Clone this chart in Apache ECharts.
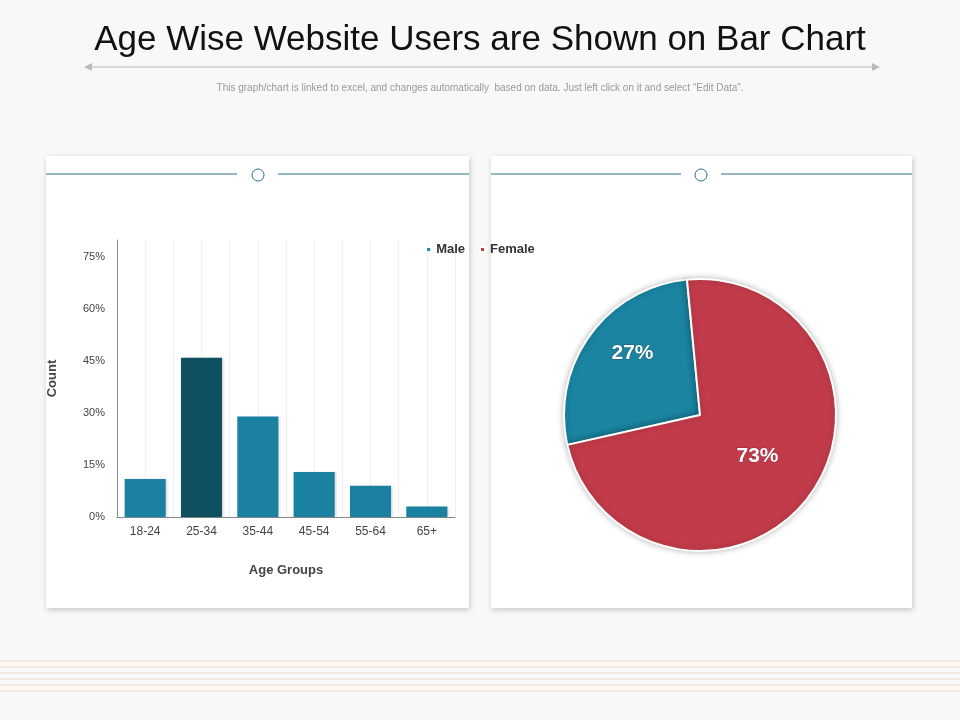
<!DOCTYPE html>
<html><head><meta charset="utf-8">
<script src="https://cdn.jsdelivr.net/npm/echarts@6/dist/echarts.min.js"></script>
<style>html,body{margin:0;padding:0;background:#f8f8f8}#c{width:960px;height:720px}</style>
</head><body><div id="c"></div>
<script>
const categories = ['18-24','25-34','35-44','45-54','55-64','65+'];
const barValues = [11, 46, 29, 13, 9, 3];
const yTicks = [0, 15, 30, 45, 60, 75];
const pieNames = ['Male','Female'];
const pieValues = [27, 73];

const chart = echarts.init(document.getElementById('c'));
const stripes = [];
for (let i = 0; i < 6; i++) stripes.push({type:'line', shape:{x1:0,y1:661+i*6,x2:960,y2:661+i*6}, style:{stroke:'#f0d9c8',lineWidth:1}, z:0});
chart.setOption({
  backgroundColor:'#f8f8f8',
  title:[{text:'Age Wise Website Users are Shown on Bar Chart', left:'center', top:18,
    textStyle:{fontFamily:'Liberation Sans, Arial', fontSize:35, fontWeight:'normal', color:'#111'}},
    {text:'This graph/chart is linked to excel, and changes automatically  based on data. Just left click on it and select \u201cEdit Data\u201d.', left:'center', top:78,
    textStyle:{fontFamily:'Liberation Sans Narrow, Liberation Sans', fontSize:10, fontWeight:'normal', color:'#999'}}],
  graphic:[
    {type:'line', shape:{x1:88,y1:67,x2:876,y2:67}, style:{stroke:'#bbb',lineWidth:1}, z:0},
    {type:'polygon', shape:{points:[[84,67],[92,63],[92,71]]}, style:{fill:'#bbb'}, z:0},
    {type:'polygon', shape:{points:[[880,67],[872,63],[872,71]]}, style:{fill:'#bbb'}, z:0},
    {type:'rect', shape:{x:46,y:156,width:423,height:452}, style:{fill:'#fff',shadowBlur:6,shadowColor:'rgba(0,0,0,0.2)',shadowOffsetX:1,shadowOffsetY:2}, z:0},
    {type:'rect', shape:{x:491,y:156,width:421,height:452}, style:{fill:'#fff',shadowBlur:6,shadowColor:'rgba(0,0,0,0.2)',shadowOffsetX:1,shadowOffsetY:2}, z:0},
    {type:'line', shape:{x1:46,y1:174,x2:237,y2:174}, style:{stroke:'#2e6f8a',lineWidth:1.2}, z:1},
    {type:'line', shape:{x1:278,y1:174,x2:469,y2:174}, style:{stroke:'#2e6f8a',lineWidth:1.2}, z:1},
    {type:'circle', shape:{cx:258,cy:175,r:6}, style:{fill:'#fff',stroke:'#2e6f8a',lineWidth:1}, z:1},
    {type:'line', shape:{x1:491,y1:174,x2:681,y2:174}, style:{stroke:'#2e6f8a',lineWidth:1.2}, z:1},
    {type:'line', shape:{x1:721,y1:174,x2:912,y2:174}, style:{stroke:'#2e6f8a',lineWidth:1.2}, z:1},
    {type:'circle', shape:{cx:701,cy:175,r:6}, style:{fill:'#fff',stroke:'#2e6f8a',lineWidth:1}, z:1},
    ...stripes
  ],
  grid:{left:117, top:240, width:338, height:277},
  xAxis:[{type:'category', data:categories, name:'Age Groups', nameLocation:'middle', nameGap:47,
    nameTextStyle:{fontFamily:'Liberation Sans', fontSize:13, fontWeight:'bold', color:'#444'},
    axisLine:{lineStyle:{color:'#888'}}, axisTick:{show:false},
    axisLabel:{fontFamily:'Liberation Sans', fontSize:12, color:'#444', margin:9},
    splitLine:{show:true, lineStyle:{color:'#ddd'}}},
   {type:'value', min:0, max:12, interval:1, position:'bottom', gridIndex:0, show:true,
    axisLine:{show:false}, axisTick:{show:false}, axisLabel:{show:false},
    splitLine:{show:true, lineStyle:{color:'#f0f0f0'}}}],
  yAxis:{type:'value', min:0, max:80, interval:15, name:'Count', nameLocation:'middle', nameGap:58, nameRotate:90,
    nameTextStyle:{fontFamily:'Liberation Sans', fontSize:13, fontWeight:'bold', color:'#444'},
    axisLine:{show:true, lineStyle:{color:'#888'}}, axisTick:{show:false},
    axisLabel:{fontFamily:'Liberation Sans', fontSize:11, color:'#444', margin:12, formatter:v=>yTicks.includes(v)?v+'%':''},
    splitLine:{show:false}},
  legend:{data:pieNames, top:238, left:'center', itemWidth:5, itemHeight:5, itemGap:14, icon:'rect',
    textStyle:{fontFamily:'Liberation Sans', fontSize:13, fontWeight:'bold', color:'#333'}},
  series:[
    {type:'bar', xAxisIndex:0, barWidth:'73%', z:3,
     data:barValues.map((v,i)=>({value:v, itemStyle:{color: i===1?'#0e4f60':'#1a82a0'}})),
     itemStyle:{shadowBlur:3, shadowColor:'rgba(0,0,0,0.15)', shadowOffsetX:2}},
    {type:'pie', center:[700,415], radius:[0,136], startAngle:95.5, clockwise:false, z:3,
     data:pieNames.map((n,i)=>({name:n, value:pieValues[i], itemStyle:{color: i===0?'#1a84a1':'#c23b4a'},
       label:{position:'inside', offset: i===0?[-10,-20]:[0,0]}})),
     itemStyle:{borderColor:'#fff', borderWidth:2, shadowBlur:6, shadowColor:'rgba(0,0,0,0.25)'},
     label:{position:'inside', formatter:'{c}%', fontFamily:'Liberation Sans', fontSize:21, fontWeight:'bold', color:'#fff',
       textBorderColor:'rgba(0,0,0,0.3)', textBorderWidth:1},
     labelLine:{show:false}}
  ]
});
</script></body></html>
